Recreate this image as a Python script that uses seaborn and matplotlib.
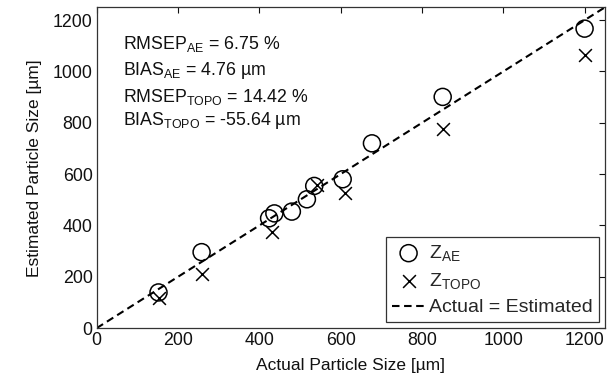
import numpy as np
import pandas as pd
import seaborn as sns
import matplotlib.pyplot as plt

# values
actual_ae = [152, 258, 424, 437, 480, 517, 535, 605, 677, 851, 1200]
estimated_ae = [139, 296, 428, 447, 454, 502, 554, 580, 720, 901, 1167]
actual_topo = [152, 258, 430, 541, 610, 851, 1200]
estimated_topo = [117, 211, 375, 557, 526, 774, 1066]
identity_line = [0, 1250]

stats_lines = [
    r'RMSEP$_{\mathrm{AE}}$ = 6.75 %',
    r'BIAS$_{\mathrm{AE}}$ = 4.76 µm',
    r'RMSEP$_{\mathrm{TOPO}}$ = 14.42 %',
    r'BIAS$_{\mathrm{TOPO}}$ = -55.64 µm',
]
ticks = [0, 200, 400, 600, 800, 1000, 1200]

sns.set_theme(style='white')
plt.rcParams['font.family'] = ['Liberation Sans', 'DejaVu Sans']
plt.rcParams['mathtext.fontset'] = 'custom'
plt.rcParams['mathtext.rm'] = 'Liberation Sans'
plt.rcParams['mathtext.it'] = 'Liberation Sans:italic'
plt.rcParams['mathtext.bf'] = 'Liberation Sans:bold'

df_ae = pd.DataFrame({'actual': actual_ae, 'estimated': estimated_ae})
df_topo = pd.DataFrame({'actual': actual_topo, 'estimated': estimated_topo})
df_line = pd.DataFrame({'actual': identity_line, 'estimated': identity_line})

fig = plt.figure(figsize=(6.16, 3.86), dpi=100)
ax = fig.add_axes([0.157, 0.150, 0.825, 0.831])

sns.scatterplot(data=df_ae, x='actual', y='estimated', ax=ax, marker='o', s=150,
                facecolor='none', edgecolor='black', linewidth=1.1,
                label=r'Z$_{\mathrm{AE}}$', zorder=3)
sns.scatterplot(data=df_topo, x='actual', y='estimated', ax=ax, marker='x', s=85,
                color='black', linewidth=1.1, label=r'Z$_{\mathrm{TOPO}}$', zorder=3)
sns.lineplot(data=df_line, x='actual', y='estimated', ax=ax, color='black',
             linewidth=1.5, dashes=False, label='Actual = Estimated', zorder=2)
ax.lines[-1].set_dashes((3.6, 2.2))

ax.set_xlim(0, 1250)
ax.set_ylim(0, 1250)
ax.set_xticks(ticks)
ax.set_yticks(ticks)
ax.tick_params(direction='in', length=4, width=0.8, top=True, right=True,
               labelsize=12.8, colors='#111111', pad=3)
for sp in ax.spines.values():
    sp.set_color('#333333')
    sp.set_linewidth(0.9)

ax.set_xlabel('Actual Particle Size [µm]', fontsize=12.5, color='#111111', labelpad=6)
ax.set_ylabel('Estimated Particle Size [µm]', fontsize=12.5, color='#111111', labelpad=8)

for text_y, line in zip([0.871, 0.788, 0.705, 0.632], stats_lines):
    ax.text(0.051, text_y, line, transform=ax.transAxes, fontsize=12.8,
            va='baseline', ha='left', color='#111111')

leg = ax.legend(loc='lower right', fontsize=14, frameon=True, fancybox=False,
                edgecolor='#333333', framealpha=1, borderaxespad=0.3,
                handlelength=1.75, handletextpad=0.2, labelspacing=0.4,
                borderpad=0.3)
leg.get_frame().set_linewidth(0.9)

fig.savefig('out.png', dpi=100)
